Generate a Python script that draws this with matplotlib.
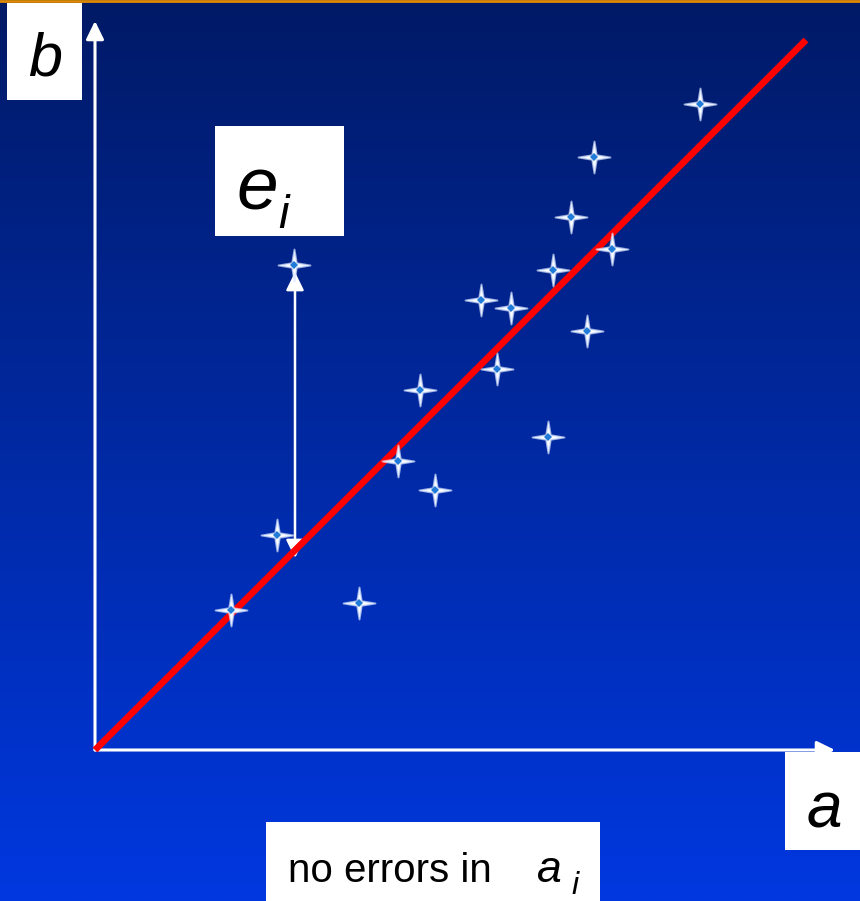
import numpy as np
import matplotlib
matplotlib.use("Agg")
import matplotlib.pyplot as plt
from matplotlib.path import Path

FONT = ["Liberation Sans", "DejaVu Sans"]

# data (in units where the axis origin is (0,0))
a_vals = [605, 499, 476, 517, 458, 386, 416, 492, 402, 325, 453, 303, 340, 182, 136, 264, 199]
b_vals = [646, 593, 533, 501, 480, 450, 442, 419, 381, 360, 313, 289, 260, 215, 140, 147, 485]
fit_a = [0, 711]
fit_b = [0, 710]
err_a = 200
err_b_top = 478
err_b_bottom = 192

W, H = 860, 901
ox, oy = 95, 750  # pixel position of origin
fig = plt.figure(figsize=(W / 100, H / 100), dpi=100)
ax = fig.add_axes([0, 0, 1, 1])
ax.set_xlim(-ox, W - ox)
ax.set_ylim(-(H - oy), oy)
ax.axis("off")

# background gradient
top = np.array([0, 26, 102]) / 255
bot = np.array([0, 56, 224]) / 255
t = np.linspace(0, 1, 400)[:, None]
grad = top + (bot - top) * t
img = np.repeat(grad[:, None, :], 2, axis=1)
ax.imshow(img, extent=[-ox, W - ox, -(H - oy), oy], aspect="auto", zorder=0, origin="upper")
ax.plot([-ox, W - ox], [oy - 1, oy - 1], color="#e08a00", lw=2, zorder=1)

head = "-|>,head_length=0.55,head_width=0.27"
# axes arrows
ax.annotate("", xy=(0, 729), xytext=(0, 0),
            arrowprops=dict(arrowstyle=head, color="white", lw=2.2, mutation_scale=20,
                            shrinkA=0, shrinkB=0), zorder=2)
ax.annotate("", xy=(740, 0), xytext=(0, 0),
            arrowprops=dict(arrowstyle=head, color="white", lw=2.2, mutation_scale=20,
                            shrinkA=0, shrinkB=0), zorder=2)

# error arrow
ax.annotate("", xy=(err_a, err_b_top), xytext=(err_a, err_b_bottom),
            arrowprops=dict(arrowstyle="<|-|>,head_length=0.55,head_width=0.27", color="white",
                            lw=1.8, mutation_scale=20, shrinkA=0, shrinkB=0), zorder=3)

# fit line
ax.plot(fit_a, fit_b, color="#ff0000", lw=4.8, solid_capstyle="butt", zorder=4)

# star marker
r_in = 0.2
verts = []
for k in range(8):
    ang = np.pi / 2 + k * np.pi / 4
    r = 1.0 if k % 2 == 0 else r_in
    verts.append((r * np.cos(ang), r * np.sin(ang)))
verts.append(verts[0])
codes = [Path.MOVETO] + [Path.LINETO] * 7 + [Path.CLOSEPOLY]
star = Path(verts, codes)

ax.plot(a_vals, b_vals, linestyle="none", marker=star, markersize=23, markerfacecolor="white",
        markeredgecolor=(0.85, 0.9, 1.0, 0.7), markeredgewidth=1.4, zorder=5)
ax.plot(a_vals, b_vals, linestyle="none", marker="D", markersize=4.5, markerfacecolor="#1f7ad8",
        markeredgewidth=0, zorder=6)

# label boxes
def box(x0, y0, x1, y1):
    ax.add_patch(plt.Rectangle((x0 - ox, oy - y1), x1 - x0, y1 - y0, facecolor="white",
                               edgecolor="none", zorder=7))

def label(x, y, s, size, italic=True):
    ax.text(x - ox, oy - y, s, fontsize=size, style="italic" if italic else "normal",
            family=FONT, ha="left", va="baseline", zorder=8)

box(7, 3, 82, 100)
label(28, 75, "b", 44)

box(215, 126, 344, 236)
label(236, 210, "e", 54)
label(278, 228, "i", 34)

box(785, 752, 860, 850)
label(807, 827, "a", 46)

box(266, 822, 600, 901)
label(288, 882, "no errors in", 29, italic=False)
label(537, 882, "a", 32)
label(571, 894, "i", 23)

fig.savefig("out.png", dpi=100)
